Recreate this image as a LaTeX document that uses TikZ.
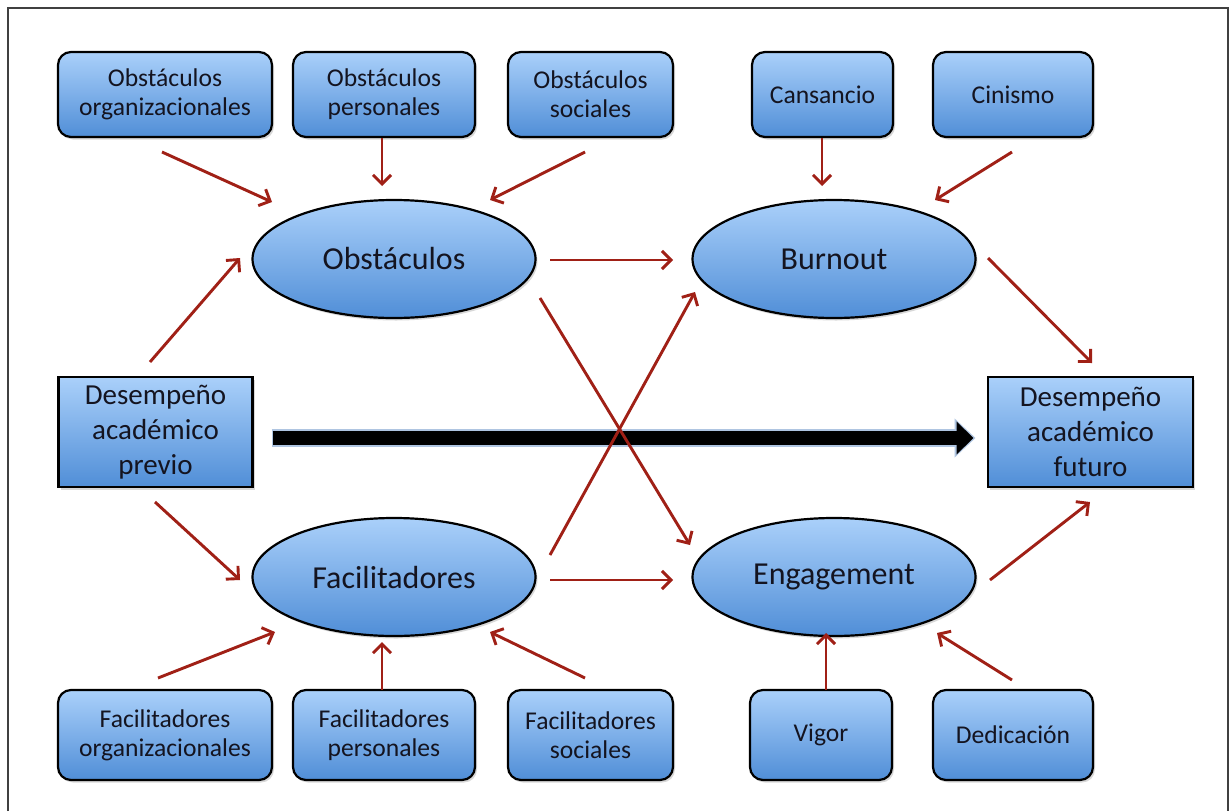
\documentclass[tikz,border=0pt]{standalone}
\usepackage{fontspec}
\setmainfont{Carlito}
\usetikzlibrary{arrows.meta,shapes.geometric,shadows,calc}
\definecolor{topblue}{RGB}{170,208,250}
\definecolor{botblue}{RGB}{80,142,215}
\definecolor{redarrow}{RGB}{160,32,22}
\definecolor{txt}{RGB}{20,20,32}
\definecolor{glow}{RGB}{110,150,200}
\tikzset{
  x=1pt, y=-1pt,
  shade/.style={top color=topblue, bottom color=botblue, draw=black, line width=2.2pt, text=txt, inner sep=0pt, align=center,
    drop shadow={opacity=0.3, shadow xshift=2pt, shadow yshift=-2.5pt}},
  rbox/.style={shade, rounded corners=13pt, font=\fontsize{25.6}{29}\selectfont},
  sqbox/.style={shade, font=\fontsize{29}{35}\selectfont, minimum width=194pt, minimum height=110pt},
  oval/.style={shade, ellipse, minimum width=283pt, minimum height=118pt, font=\fontsize{32}{36}\selectfont},
  rarrow/.style={draw=redarrow, line width=2.9pt, -{Straight Barb[length=9pt,width=18pt]}},
}
\begin{document}
\begin{tikzpicture}
\useasboundingbox (0,0) rectangle (1230,811);
\fill[white] (0,0) rectangle (1230,811);
% frame
\draw[line width=1.6pt, black!75] (8,811) -- (8,8) -- (1228,8) -- (1228,811);

% top boxes
\node[rbox, minimum width=214pt, minimum height=85pt] (o1) at (165,94.5) {Obstáculos\\organizacionales};
\node[rbox, minimum width=182pt, minimum height=85pt] (o2) at (384,94.5) {Obstáculos\\personales};
\node[rbox, minimum width=165pt, minimum height=85pt] (o3) at (590.5,94.5) {Obstáculos\\sociales};
\node[rbox, minimum width=141pt, minimum height=85pt] (can) at (822.5,94.5) {Cansancio};
\node[rbox, minimum width=160pt, minimum height=85pt] (cin) at (1013,94.5) {Cinismo};

% ellipses
\node[oval] (obs) at (394,259) {Obstáculos};
\node[oval] (bur) at (834,259) {Burnout};
\node[oval] (fac) at (394,577) {Facilitadores};
\node[oval] (eng) at (834,577) {Engagement};

% side boxes
\node[sqbox] (prev) at (155.5,432) {Desempeño\\académico\\previo};
\node[sqbox, minimum width=205pt] (fut) at (1090.5,432) {Desempeño\\académico\\futuro};

% bottom boxes
\node[rbox, minimum width=214pt, minimum height=90pt] (f1) at (165,735) {Facilitadores\\organizacionales};
\node[rbox, minimum width=182pt, minimum height=90pt] (f2) at (384,735) {Facilitadores\\personales};
\node[rbox, minimum width=165pt, minimum height=90pt] (f3) at (590.5,735) {Facilitadores\\sociales};
\node[rbox, minimum width=142pt, minimum height=90pt] (vig) at (821,735) {Vigor};
\node[rbox, minimum width=160pt, minimum height=90pt] (ded) at (1013,735) {Dedicación};

% thick arrow
\draw[line width=18pt, glow!55, -{Triangle[length=21pt,width=38pt]}] ($(prev)+(116,6)$) -- ($(fut)+(-115,6)$);
\draw[line width=14pt, black, -{Triangle[length=17pt,width=32pt]}] ($(prev)+(117,6)$) -- ($(fut)+(-117,6)$);

% red arrows
\draw[rarrow] ($(o1)+(-3,57.5)$) -- ($(obs)+(-122,-57)$);
\draw[rarrow] ($(o2)+(-2,43.5)$) -- ($(obs)+(-12,-73)$);
\draw[rarrow] ($(o3)+(-5.5,57.5)$) -- ($(obs)+(96,-59)$);
\draw[rarrow] ($(can)+(-0.5,43.5)$) -- ($(bur)+(-12,-73)$);
\draw[rarrow] ($(cin)+(-1,57.5)$) -- ($(bur)+(101,-59)$);
\draw[rarrow] ($(obs)+(156,1)$) -- ($(bur)+(-161,1)$);
\draw[rarrow] ($(bur)+(154,-1)$) -- ($(fut)+(1.5,-69)$);
\draw[rarrow] ($(prev)+(-5.5,-70)$) -- ($(obs)+(-154,-1)$);
\draw[rarrow] ($(prev)+(-0.5,70)$) -- ($(fac)+(-154,3)$);
\draw[rarrow] ($(obs)+(146,39)$) -- ($(eng)+(-144,-32)$);
\draw[rarrow] ($(fac)+(156,-22)$) -- ($(bur)+(-139,33)$);
\draw[rarrow] ($(fac)+(156,3)$) -- ($(eng)+(-161,3)$);
\draw[rarrow] ($(eng)+(156,3)$) -- ($(fut)+(-0.5,70)$);
\draw[rarrow] ($(f1)+(-7,-57)$) -- ($(fac)+(-119,55)$);
\draw[rarrow] ($(f2)+(-2,-45)$) -- ($(fac)+(-12,65)$);
\draw[rarrow] ($(f3)+(-5.5,-57)$) -- ($(fac)+(96,55)$);
\draw[rarrow] ($(vig)+(5,-45)$) -- ($(eng)+(-8,56)$);
\draw[rarrow] ($(ded)+(-1,-55)$) -- ($(eng)+(103,56)$);
\end{tikzpicture}
\end{document}
